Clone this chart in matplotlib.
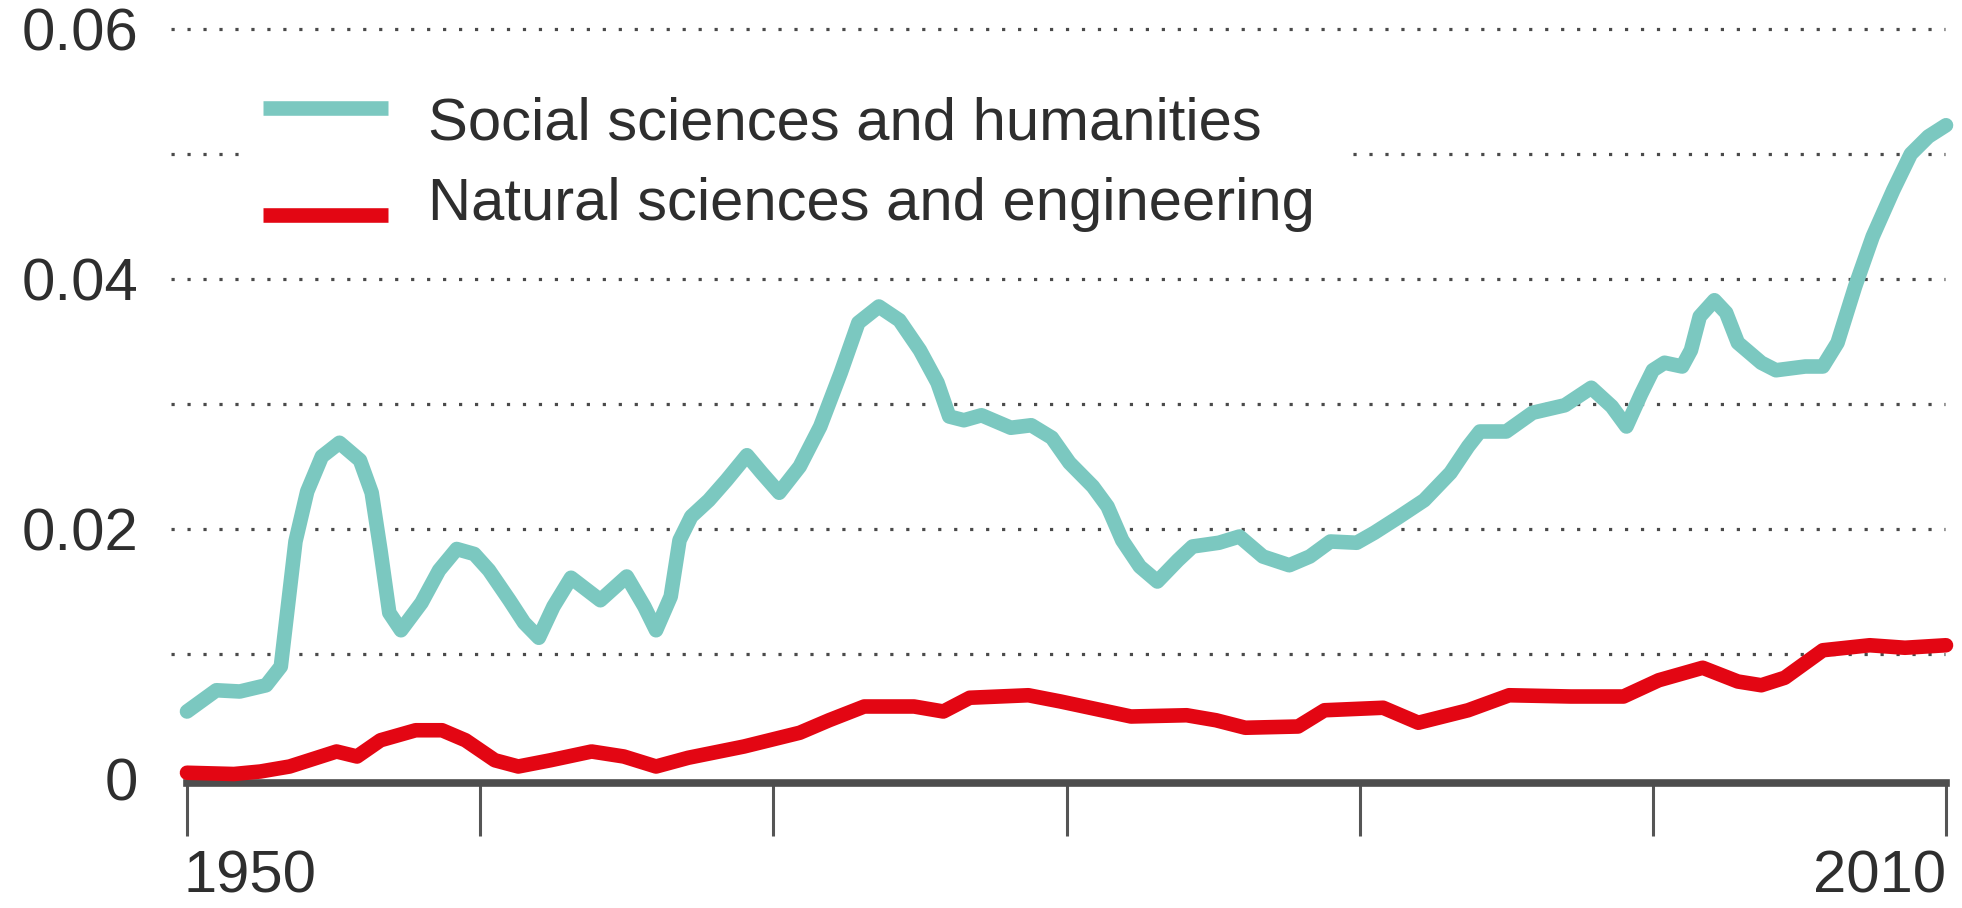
import matplotlib
matplotlib.use("Agg")
import matplotlib.pyplot as plt
import matplotlib.transforms as mtransforms
from matplotlib.lines import Line2D
from matplotlib.patches import Rectangle

plt.rcParams['font.family'] = ['Liberation Sans', 'DejaVu Sans']

# ---- data ----
social_years = [1950.0, 1951.0, 1951.8, 1952.7, 1953.2, 1953.4, 1953.7, 1954.1, 1954.6, 1955.2,
                1955.9, 1956.3, 1956.6, 1956.9, 1957.3, 1958.0, 1958.6, 1959.2, 1959.8, 1960.3,
                1961.0, 1961.5, 1962.0, 1962.5, 1963.1, 1964.1, 1965.0, 1965.6, 1966.0, 1966.5,
                1966.8, 1967.2, 1967.8, 1968.4, 1969.1, 1969.6, 1970.2, 1970.9, 1971.6, 1972.3,
                1972.9, 1973.6, 1974.3, 1975.0, 1975.6, 1976.0, 1976.5, 1977.1, 1978.1, 1978.8,
                1979.5, 1980.1, 1980.9, 1981.4, 1981.9, 1982.5, 1983.1, 1983.8, 1984.3, 1985.2,
                1985.9, 1986.7, 1987.6, 1988.3, 1989.0, 1989.9, 1990.5, 1991.3, 1992.2, 1993.1,
                1993.7, 1994.1, 1995.0, 1995.9, 1997.0, 1997.9, 1998.6, 1999.1, 1999.6, 2000.0,
                2000.4, 2001.0, 2001.3, 2001.6, 2002.1, 2002.5, 2002.9, 2003.7, 2004.2, 2005.2,
                2005.8, 2006.3, 2006.9, 2007.5, 2008.2, 2008.8, 2009.4, 2010.0]
social_values = [0.0054, 0.0071, 0.0070, 0.0075, 0.0090, 0.0130, 0.0190, 0.0230, 0.0258, 0.0269,
                 0.0255, 0.0229, 0.0183, 0.0133, 0.0119, 0.0141, 0.0167, 0.0184, 0.0180, 0.0167,
                 0.0143, 0.0125, 0.0113, 0.0138, 0.0161, 0.0143, 0.0162, 0.0138, 0.0119, 0.0146,
                 0.0191, 0.0210, 0.0223, 0.0239, 0.0259, 0.0245, 0.0229, 0.0250, 0.0282, 0.0325,
                 0.0365, 0.0378, 0.0367, 0.0343, 0.0317, 0.0290, 0.0287, 0.0291, 0.0281, 0.0283,
                 0.0273, 0.0253, 0.0234, 0.0218, 0.0191, 0.0170, 0.0158, 0.0175, 0.0186, 0.0189,
                 0.0194, 0.0178, 0.0171, 0.0178, 0.0190, 0.0189, 0.0197, 0.0209, 0.0223, 0.0245,
                 0.0266, 0.0278, 0.0278, 0.0293, 0.0299, 0.0313, 0.0298, 0.0282, 0.0308, 0.0327,
                 0.0333, 0.0330, 0.0343, 0.0370, 0.0383, 0.0373, 0.0349, 0.0333, 0.0327, 0.0330,
                 0.0330, 0.0349, 0.0394, 0.0434, 0.0471, 0.0500, 0.0514, 0.0523]

natural_years = [1950.0, 1951.6, 1952.5, 1953.5, 1955.1, 1955.8, 1956.6, 1957.8, 1958.7, 1959.5,
                 1960.5, 1961.3, 1962.4, 1963.8, 1964.9, 1966.0, 1967.1, 1969.0, 1970.9, 1971.9,
                 1973.1, 1974.8, 1975.8, 1976.7, 1978.7, 1979.8, 1980.8, 1982.2, 1984.1, 1985.1,
                 1986.1, 1987.9, 1988.8, 1990.8, 1992.0, 1993.7, 1995.1, 1997.2, 1999.0, 2000.2,
                 2001.7, 2002.9, 2003.7, 2004.5, 2005.8, 2007.4, 2008.6, 2010.0]
natural_values = [0.0005, 0.0004, 0.0006, 0.0010, 0.0022, 0.0018, 0.0031, 0.0039, 0.0039, 0.0031,
                  0.0015, 0.0010, 0.0015, 0.0022, 0.0018, 0.0010, 0.0017, 0.0026, 0.0037, 0.0047,
                  0.0058, 0.0058, 0.0054, 0.0065, 0.0067, 0.0062, 0.0057, 0.0050, 0.0051, 0.0047,
                  0.0041, 0.0042, 0.0055, 0.0057, 0.0045, 0.0055, 0.0067, 0.0066, 0.0066, 0.0079,
                  0.0089, 0.0078, 0.0075, 0.0081, 0.0103, 0.0107, 0.0105, 0.0107]

series_labels = ["Social sciences and humanities", "Natural sciences and engineering"]
grid_levels = [0.01, 0.02, 0.03, 0.04, 0.05, 0.06]
ytick_values = [0, 0.02, 0.04, 0.06]
ytick_labels = ["0", "0.02", "0.04", "0.06"]
xtick_values = [1950, 1960, 1970, 1980, 1990, 2000, 2010]
xtick_labels = ["1950", "", "", "", "", "", "2010"]

TEAL = "#7BC8C0"
RED = "#E30613"
TXT = "#2e2e2e"
FS = 43
LW = 10.5

W, H = 1962, 908
fig = plt.figure(figsize=(W / 100, H / 100), dpi=100)
ax = fig.add_axes([187 / W, 129 / H, 1759 / W, 750 / H])
ax.set_xlim(1950, 2010)
ax.set_ylim(0, 0.06)

for s in ["top", "right", "left"]:
    ax.spines[s].set_visible(False)
ax.spines["bottom"].set_color("#4d4d4d")
ax.spines["bottom"].set_linewidth(5.5)
ax.spines["bottom"].set_position(("outward", 3))

# dotted gridlines
ax.hlines(grid_levels, 1949.45, 2009.95, colors="#4a4a4a", linewidth=2.3,
          linestyles=(0, (1, 4)), clip_on=False, zorder=1)

# white box behind the legend (hides part of the 0.05 gridline)
ax.add_patch(Rectangle((1951.95, 0.0455), 37.55, 0.011, facecolor="white",
                       edgecolor="none", zorder=2))

ax.plot(natural_years, natural_values, color=RED, lw=LW, solid_capstyle="round",
        solid_joinstyle="round", clip_on=False, zorder=3)
ax.plot(social_years, social_values, color=TEAL, lw=LW, solid_capstyle="round",
        solid_joinstyle="round", clip_on=False, zorder=3)

ax.set_yticks(ytick_values)
ax.set_yticklabels(ytick_labels)
ax.tick_params(axis="y", length=0, pad=35, labelsize=FS, labelcolor=TXT)

ax.set_xticks(xtick_values)
ax.set_xticklabels(xtick_labels)
ax.tick_params(axis="x", length=38, width=2.2, color="#555555", pad=10,
               labelsize=FS, labelcolor=TXT)
lbls = ax.get_xticklabels()
lbls[0].set_horizontalalignment("left")
lbls[-1].set_horizontalalignment("right")
lbls[0].set_transform(lbls[0].get_transform() +
                      mtransforms.ScaledTranslation(-4 / 100, 0, fig.dpi_scale_trans))

# manual legend
fig.add_artist(Line2D([263 / W, 388 / W], [1 - 108 / H, 1 - 108 / H], color=TEAL, lw=LW,
                      solid_capstyle="butt", transform=fig.transFigure))
fig.add_artist(Line2D([263 / W, 388 / W], [1 - 215 / H, 1 - 215 / H], color=RED, lw=LW,
                      solid_capstyle="butt", transform=fig.transFigure))
fig.text(428 / W, 1 - 139 / H, series_labels[0], fontsize=FS, color=TXT, va="baseline", ha="left")
fig.text(428 / W, 1 - 220 / H, series_labels[1], fontsize=FS, color=TXT, va="baseline", ha="left")

fig.savefig("out.png", dpi=100, facecolor="white")
